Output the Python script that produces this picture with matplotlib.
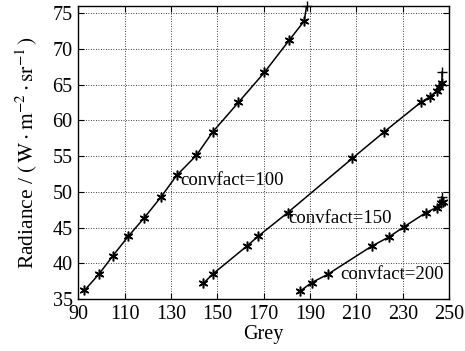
import matplotlib
matplotlib.use("Agg")
from matplotlib import pyplot as plt

plt.rcParams["font.family"] = "Liberation Serif"
plt.rcParams["mathtext.fontset"] = "stix"
plt.rcParams["font.size"] = 14.5

# Grey level vs radiance
grey100 = [92.7, 98.9, 105.0, 111.7, 118.6, 125.8, 132.5, 141.0, 148.1,
           159.1, 170.3, 181.0, 187.5, 188.5]
rad100 = [36.2, 38.45, 41.06, 43.8, 46.4, 49.3, 52.3, 55.1, 58.4,
          62.5, 66.7, 71.2, 73.9, 76.0]

grey150 = [144.0, 148.1, 162.7, 167.7, 180.4, 208.3, 222.0, 237.7, 241.7,
           244.6, 245.7, 246.7, 246.7]
rad150 = [37.2, 38.5, 42.4, 43.8, 47.1, 54.7, 58.4, 62.5, 63.3,
          64.1, 64.6, 65.2, 66.8]

grey200 = [185.7, 190.7, 197.6, 216.6, 224.1, 230.5, 240.0, 244.6, 246.3,
           247.2, 246.9]
rad200 = [36.1, 37.3, 38.45, 42.4, 43.7, 45.1, 47.1, 47.8, 48.4,
          48.6, 49.3]

labels = ["convfact=100", "convfact=150", "convfact=200"]
label_pos = [(134.0, 51.6), (180.6, 46.3), (202.9, 38.4)]

fig = plt.figure(figsize=(4.65, 3.51), dpi=100)
ax = fig.add_axes([0.168, 0.148, 0.798, 0.835])

asterisk = (6, 2, 0)
for gx, ry in [(grey100, rad100), (grey150, rad150), (grey200, rad200)]:
    ax.plot(gx[:-1], ry[:-1], color="k", lw=1.1, marker=asterisk,
            markersize=7, markeredgewidth=1.1)
    # last point drawn with a plus marker
    ax.plot(gx[-2:], ry[-2:], color="k", lw=1.1)
    ax.plot(gx[-1], ry[-1], color="k", marker="+", markersize=7,
            markeredgewidth=1.0, clip_on=False)

for txt, (tx, ty) in zip(labels, label_pos):
    ax.text(tx, ty, txt, ha="left", va="center", fontsize=13.5)

ax.set_xlim(90, 250)
ax.set_ylim(35, 76)
ax.set_xticks(range(90, 251, 20))
ax.set_yticks(range(35, 76, 5))
ax.grid(True, color="k", linestyle=(0, (1, 2)), linewidth=0.6)
ax.tick_params(direction="in", top=True, right=True, length=4, width=0.8, pad=4)
for s in ax.spines.values():
    s.set_linewidth(1.0)

ax.set_xlabel("Grey", labelpad=1)
ax.set_ylabel(r"Radiance / $(\,\mathrm{W \cdot m^{-2} \cdot sr^{-1}}\,)$",
              fontsize=15.5, labelpad=9)

fig.savefig("out.png", dpi=100)
